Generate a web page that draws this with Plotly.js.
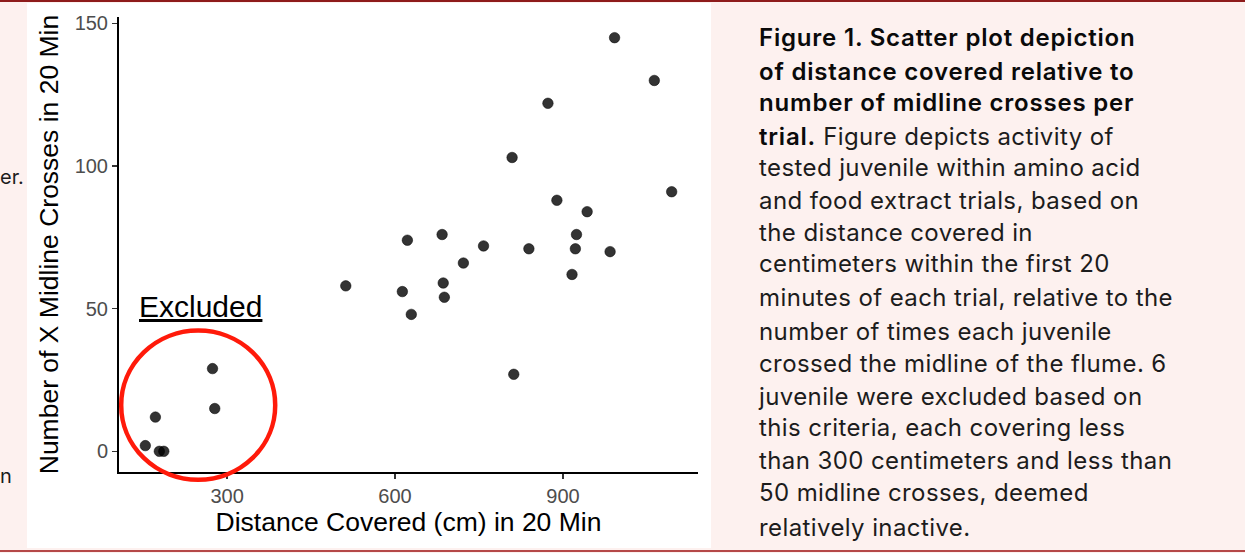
<!DOCTYPE html>
<html>
<head>
<meta charset="utf-8">
<script src="https://cdn.plot.ly/plotly-3.0.1.min.js"></script>
<style>
  html, body { margin:0; padding:0; }
  body { width:1245px; height:553px; background:#fdf1ef; position:relative; overflow:hidden; }
  #topline { position:absolute; left:0; top:0; width:1245px; height:2px; background:#8e1b1b; }
  #botline { position:absolute; left:0; top:550px; width:1245px; height:2px; background:#b54848; }
  #panel { position:absolute; left:27px; top:3px; width:684px; height:545px; background:#ffffff; }
  #chart { position:absolute; left:27px; top:3px; width:684px; height:545px; }
  .cap { position:absolute; left:759px; font-family:"Inter","Noto Sans",sans-serif; font-size:24px; line-height:24px; letter-spacing:0.4px; color:#1c1c1c; white-space:nowrap; }
  .cap b { font-weight:600; letter-spacing:0.8px; color:#0a0a0a; }
  .side { position:absolute; left:0px; font-family:"Inter","Noto Sans",sans-serif; font-size:20px; line-height:20px; color:#1c1c1c; white-space:nowrap; }
</style>
</head>
<body>
<div id="topline"></div>
<div id="botline"></div>
<div id="panel"></div>
<div id="chart"></div>
<div id="caption"></div>
<div class="side" style="top:167px;">er.</div>
<div class="side" style="top:466px;">n</div>
<script>
// ---- data ----
const distanceCm = [992, 1063, 873, 809, 1094, 889, 943, 924, 922, 839, 984, 916,
                    758, 684, 622, 722, 686, 688, 613, 629, 512, 812,
                    274, 278, 172, 154, 179, 187];
const midlineCrosses = [145, 130, 122, 103, 91, 88, 84, 76, 71, 71, 70, 62,
                        72, 76, 74, 66, 59, 54, 56, 48, 58, 27,
                        29, 15, 12, 2, 0, 0];
const xTickValues = [300, 600, 900];
const yTickValues = [0, 50, 100, 150];
const xTitle = "Distance Covered (cm) in 20 Min";
const yTitle = "Number of X Midline Crosses in 20 Min";
const excludedLabel = "Excluded";
const captionLines = [
  "<b>Figure 1. Scatter plot depiction</b>",
  "<b>of distance covered relative to</b>",
  "<b>number of midline crosses per</b>",
  "<b>trial.</b> Figure depicts activity of",
  "tested juvenile within amino acid",
  "and food extract trials, based on",
  "the distance covered in",
  "centimeters within the first 20",
  "minutes of each trial, relative to the",
  "number of times each juvenile",
  "crossed the midline of the flume. 6",
  "juvenile were excluded based on",
  "this criteria, each covering less",
  "than 300 centimeters and less than",
  "50 midline crosses, deemed",
  "relatively inactive."
];
const captionBaselines = [46.7, 80, 111.7, 145.7, 176.7, 209, 241.7, 272.5, 306, 340.7, 372.7, 405, 436.7, 469, 501, 536];

// caption
const capDiv = document.getElementById('caption');
captionLines.forEach((t, i) => {
  const d = document.createElement('div');
  d.className = 'cap';
  d.style.top = (captionBaselines[i] - 20.4) + 'px';
  d.innerHTML = t;
  capDiv.appendChild(d);
});

const trace = {
  type: 'scatter',
  mode: 'markers',
  x: distanceCm,
  y: midlineCrosses,
  marker: { size: 10.5, color: 'rgba(0,0,0,0.8)', line: { width: 0.6, color: 'rgba(0,0,0,0.85)' } },
  hoverinfo: 'x+y',
  showlegend: false
};

const axisFont = { family: 'Liberation Sans, Arial, sans-serif', size: 20, color: '#4d4d4d' };
const titleFont = { family: 'Liberation Sans, Arial, sans-serif', size: 26.5, color: '#000000' };

const layout = {
  width: 684, height: 545,
  margin: { l: 92, r: 13, t: 14, b: 76 },
  paper_bgcolor: '#ffffff',
  plot_bgcolor: '#ffffff',
  showlegend: false,
  xaxis: {
    range: [107, 1141],
    tickvals: xTickValues,
    ticktext: xTickValues.map(String),
    ticks: 'outside', ticklen: 5, tickwidth: 1.5, tickcolor: '#333333',
    showline: true, linecolor: '#000000', linewidth: 2,
    showgrid: false, zeroline: false,
    tickfont: axisFont,
    title: { text: xTitle, font: titleFont, standoff: 5 },
    automargin: false
  },
  yaxis: {
    range: [-7.25, 152.25],
    tickvals: yTickValues,
    ticktext: yTickValues.map(String),
    ticks: 'outside', ticklen: 5, tickwidth: 1.5, tickcolor: '#333333',
    showline: true, linecolor: '#000000', linewidth: 2,
    showgrid: false, zeroline: false,
    tickfont: axisFont,
    title: { text: yTitle, font: titleFont, standoff: 8 },
    automargin: false
  },
  annotations: [{
    xref: 'x', yref: 'y', x: 253, y: 50.6,
    text: '<u>' + excludedLabel + '</u>',
    showarrow: false,
    xanchor: 'center', yanchor: 'middle',
    font: { family: 'Liberation Sans, Arial, sans-serif', size: 30, color: '#000000' }
  }],
  shapes: [{
    type: 'circle', xref: 'paper', yref: 'paper',
    x0: 0.0038, x1: 0.2698, y0: -0.0171, y1: 0.3108,
    line: { color: '#ff1a0a', width: 4.5 },
    layer: 'above'
  }]
};

Plotly.newPlot('chart', [trace], layout, { displayModeBar: false, staticPlot: true });
</script>
</body>
</html>
